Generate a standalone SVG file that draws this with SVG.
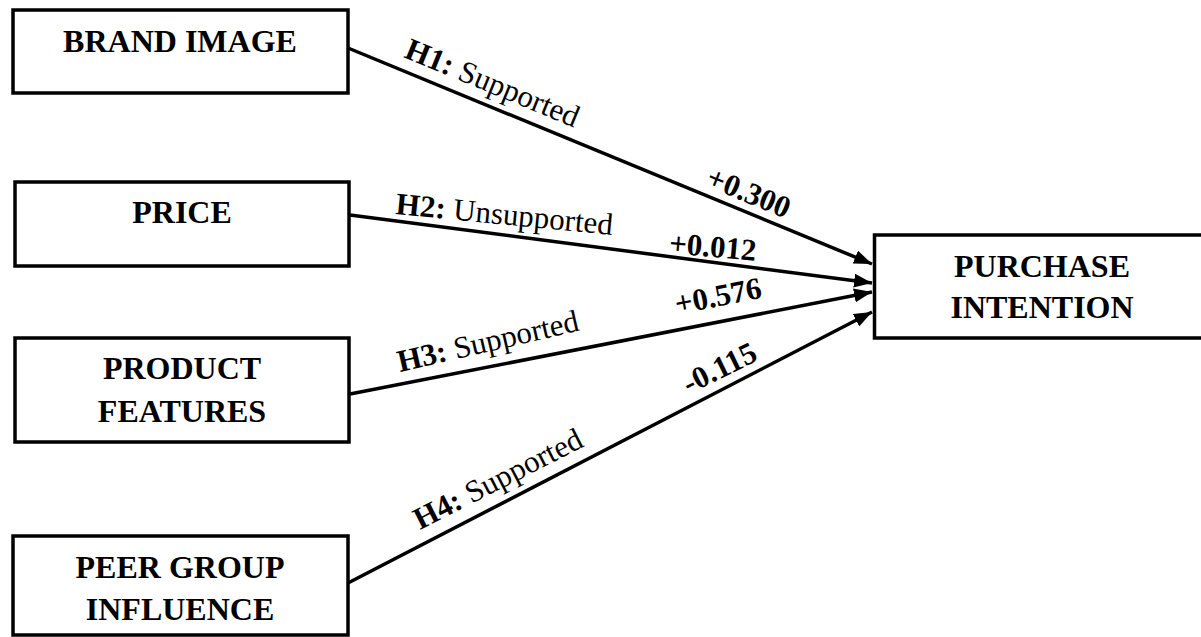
<svg xmlns="http://www.w3.org/2000/svg" width="1201" height="637" viewBox="0 0 1201 637">
<style>
.box{fill:#fff;stroke:#000;stroke-width:3.5}
.nt{font-family:"Liberation Serif","Times New Roman",serif;font-weight:bold;font-size:32px;text-anchor:middle;fill:#000}
.lb{font-family:"Liberation Serif","Times New Roman",serif;font-size:31px;fill:#000}
.b{font-weight:bold}
.cn{stroke:#000;stroke-width:3.5;fill:none}
</style>
<defs>
<marker id="ah" markerUnits="userSpaceOnUse" markerWidth="20" markerHeight="14" refX="18" refY="7" orient="auto">
<path d="M0,0 L18,7 L0,14 z" fill="#000"/>
</marker>
</defs>
<g id="connectors">
<line class="cn" x1="348" y1="48" x2="872" y2="264" marker-end="url(#ah)"/>
<line class="cn" x1="350" y1="215" x2="872" y2="283" marker-end="url(#ah)"/>
<line class="cn" x1="350" y1="394" x2="872" y2="292" marker-end="url(#ah)"/>
<line class="cn" x1="348" y1="583" x2="872" y2="312" marker-end="url(#ah)"/>
<text class="lb" x="403" y="57" transform="rotate(22.4 403 57)"><tspan class="b">H1:</tspan> Supported</text>
<text class="lb b" x="745" y="202" text-anchor="middle" transform="rotate(22.4 745 202)">+0.300</text>
<text class="lb" x="395" y="214" transform="rotate(5.5 395 214)"><tspan class="b">H2:</tspan> Unsupported</text>
<text class="lb b" x="712" y="257" text-anchor="middle" transform="rotate(5 712 257)">+0.012</text>
<text class="lb" x="400" y="372" transform="rotate(-13 400 372)"><tspan class="b">H3:</tspan> Supported</text>
<text class="lb b" x="720" y="306" text-anchor="middle" transform="rotate(-11 720 306)">+0.576</text>
<text class="lb" x="420" y="530" transform="rotate(-27 420 530)"><tspan class="b">H4:</tspan> Supported</text>
<text class="lb b" x="724" y="377" text-anchor="middle" transform="rotate(-26 724 377)">-0.115</text>
</g>
<g id="brand-image">
<rect class="box" x="13" y="10" width="335" height="83"/>
<text class="nt" x="180" y="52">BRAND IMAGE</text>
</g>
<g id="price">
<rect class="box" x="15" y="182" width="334" height="84"/>
<text class="nt" x="182" y="223">PRICE</text>
</g>
<g id="product-features">
<rect class="box" x="15" y="338" width="334" height="104"/>
<text class="nt" x="182" y="379">PRODUCT</text>
<text class="nt" x="182" y="422">FEATURES</text>
</g>
<g id="peer-group-influence">
<rect class="box" x="13" y="536" width="335" height="99"/>
<text class="nt" x="180" y="578">PEER GROUP</text>
<text class="nt" x="180" y="620">INFLUENCE</text>
</g>
<g id="purchase-intention">
<rect class="box" x="874.5" y="235" width="340" height="103"/>
<text class="nt" x="1042" y="277">PURCHASE</text>
<text class="nt" x="1042" y="318">INTENTION</text>
</g>
</svg>
